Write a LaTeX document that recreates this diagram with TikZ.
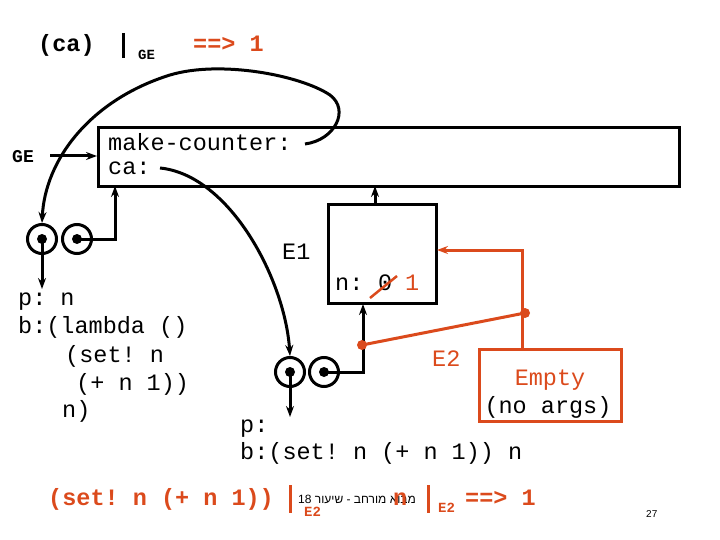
\documentclass[tikz,border=0pt]{standalone}
\usepackage{fontspec}
\setmonofont{Liberation Mono}
\newfontfamily\hebfont[Script=Hebrew]{Liberation Sans}
\newfontfamily\sansf{Liberation Sans}
\TeXXeTstate=1
\usetikzlibrary{arrows.meta}
\definecolor{org}{HTML}{DB4A1C}
\tikzset{
 t/.style={font=\ttfamily\fontsize{23.5}{23.5}\selectfont,inner sep=0,anchor=base west},
 tb/.style={font=\ttfamily\bfseries\fontsize{23.5}{23.5}\selectfont,inner sep=0,anchor=base west},
 ts/.style={font=\ttfamily\bfseries\fontsize{14}{14}\selectfont,inner sep=0,anchor=base west},
 ar/.style={line width=3pt,-{Stealth[length=11pt,width=8pt]}},
 ln/.style={line width=3pt},
 box/.style={draw,line width=3pt,inner sep=0},
 ring/.style={draw,circle,line width=3pt,minimum size=29pt,inner sep=0},
 dot/.style={fill,circle,minimum size=10pt,inner sep=0},
}
\begin{document}
\begin{tikzpicture}[x=1pt,y=-1pt]
\useasboundingbox (0,0) rectangle (720,540);
% headline
\node[tb] (ca) at (38,52) {(ca)};
\draw[line width=3pt] (123,33) coordinate (b1a) -- (123,58) coordinate (b1b);
\node[ts] (ge1) at (138,60) {GE};
\node[tb,text=org] (r1) at (193,52) {==> 1};
% global env
\node[box,minimum width=581pt,minimum height=59pt,anchor=north west] (G) at (97,126) {};
\node[t] (mc) at (108,151) {make-counter:};
\node[t] (cal) at (108,175) {ca:};
\node[tb,font=\ttfamily\bfseries\fontsize{18}{18}\selectfont] (gel) at (12,163) {GE};
\coordinate (gs) at (50,156);
\draw[ar] (gs) -- (97,156);
% first procedure
\node[ring] (c1) at (42,239) {};
\node[ring] (c2) at (77,239) {};
\node[dot] (d1) at (42,239) {};
\node[dot] (d2) at (77,239) {};
\draw[ar] (d2.center) -- (115,239) -- (115,186);
\coordinate (p1e) at (42,289);
\draw[ar] (d1.center) -- (p1e);
\coordinate (mce) at (305,144);
\draw[ln,-{Stealth[length=11pt,width=8pt]}] (mce) .. controls (335,140) and (350,110) .. (330,95) .. controls (300,75) and (220,60) .. (170,75) .. controls (90,100) and (45,160) .. (c1.north);
\node[t] at (18,305) {p: n};
\node[t] at (18,333) {b:(lambda ()};
\node[t] at (65,362) {(set! n};
\node[t] at (76,390) {(+ n 1))};
\node[t] at (62,417) {n)};
% E1
\node[box,minimum width=108pt,minimum height=99pt,anchor=north west] (E1) at (327,203) {};
\node[t] (e1l) at (282,259) {E1};
\draw[ar] (375,203) -- (375,186);
\node[t] (nl) at (335,290) {n:};
\node[t] (n0) at (378,290) {0};
\draw[org,line width=2.5pt] (370,298) -- (397,276);
\node[t,text=org] (n1) at (405,290) {1};
% second procedure
\node[ring] (c3) at (290,372) {};
\node[ring] (c4) at (324,372) {};
\node[dot] (d3) at (290,372) {};
\node[dot] (d4) at (324,372) {};
\draw[ar] (d4.center) -- (363,372) -- (363,304);
\coordinate (p2e) at (290,417);
\draw[ar] (d3.center) -- (p2e);
\coordinate (cae) at (160,168);
\draw[ln,-{Stealth[length=11pt,width=8pt]}] (cae) .. controls (230,175) and (285,280) .. (c3.north);
\node[t] at (240,432) {p:};
\node[t] at (240,459) {b:(set! n (+ n 1)) n};
% E2
\node[box,draw=org,minimum width=142pt,minimum height=72pt,anchor=north west] (E2) at (478,348) {};
\node[t,text=org] (e2l) at (432,366) {E2};
\node[t,text=org,anchor=base] at (550,385) {Empty};
\node[t,anchor=base] at (548,413) {(no args)};
\node[dot,fill=org] (q1) at (525,313) {};
\node[dot,fill=org] (q2) at (362,345) {};
\draw[org,line width=3pt,-{Stealth[length=11pt,width=8pt]}] (522,348) -- (522,250) -- (437,250);
\draw[org,line width=3pt] (q1.center) -- (q2.center);
% bottom line
\node[tb,text=org] (bl) at (48,505) {(set! n (+ n 1))};
\draw[org,line width=3pt] (290,485) coordinate (b2a) -- (290,513) coordinate (b2b);
\node[ts,text=org] at (304,516) {E2};
\node[font=\hebfont\fontsize{12}{12}\selectfont,inner sep=0,anchor=base west] (heb) at (298,503) {\beginR מבוא מורחב - שיעור \beginL18\endL\endR};
\node[tb,text=org] (nn) at (393,505) {n};
\draw[org,line width=3pt] (428,485) coordinate (b3a) -- (428,513) coordinate (b3b);
\node[ts,text=org] at (438,512) {E2};
\node[tb,text=org] (r2) at (465,505) {==> 1};
\node[font=\sansf\fontsize{10}{10}\selectfont,inner sep=0,anchor=base west] (pg) at (646,517) {27};
\end{tikzpicture}
\end{document}
